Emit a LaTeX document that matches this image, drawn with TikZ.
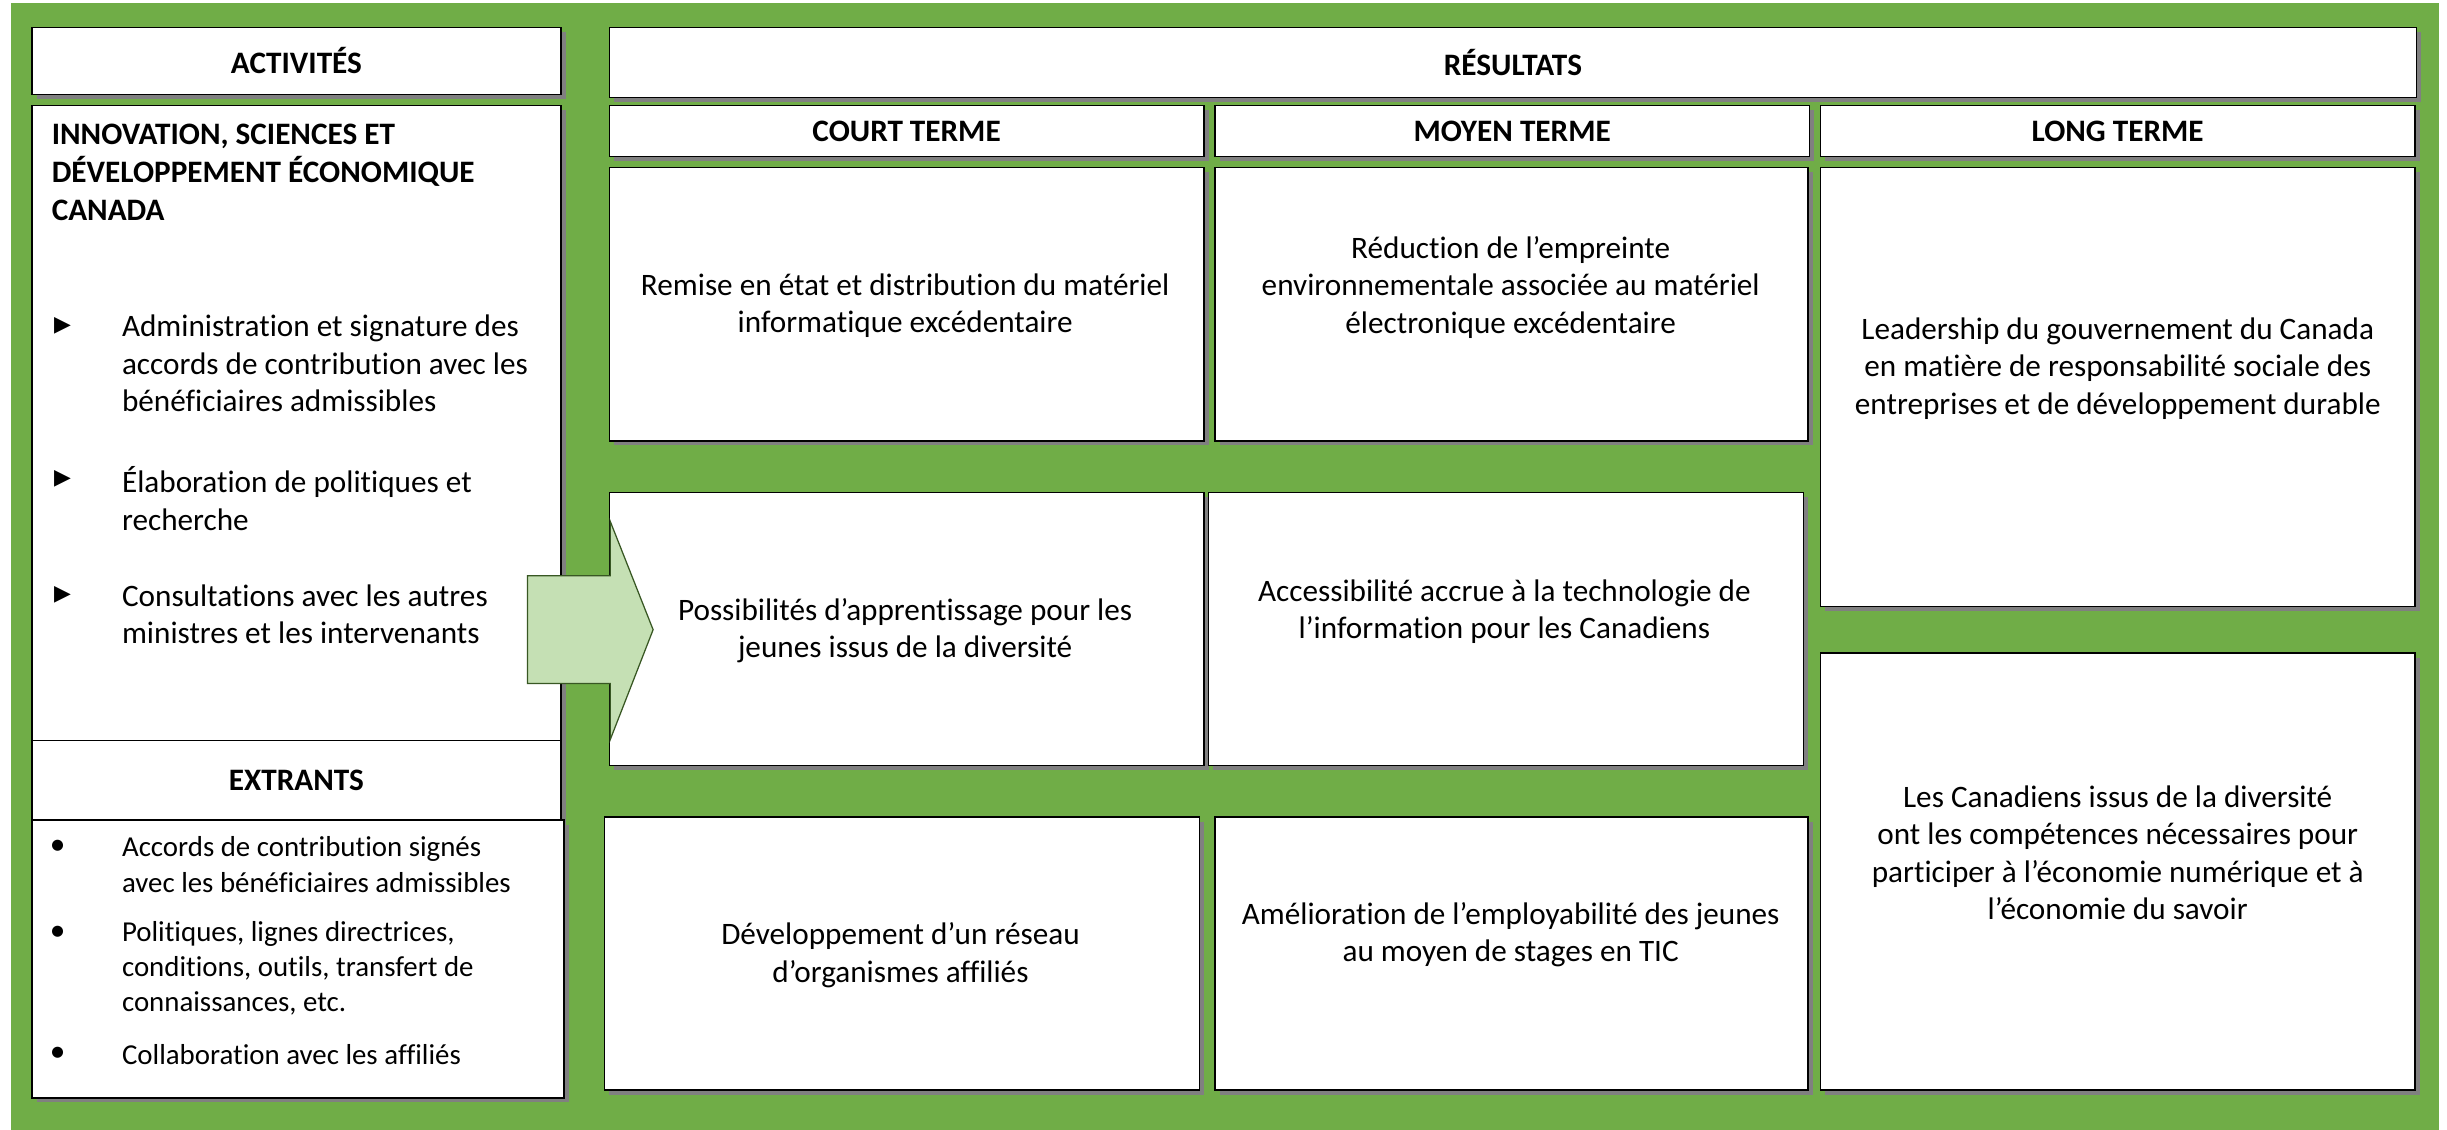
\documentclass[tikz,border=0pt]{standalone}
\usepackage{fontspec}
\setmainfont{Carlito}[RawFeature=-liga]
\newfontfamily\symfont{DejaVu Sans}
\usetikzlibrary{shadows}

\definecolor{bggreen}{RGB}{112,173,71}
\definecolor{arrowfill}{RGB}{197,224,180}
\definecolor{arrowline}{RGB}{56,87,35}
\definecolor{shadowgray}{RGB}{128,128,128}

\tikzset{
  panel/.style={rectangle, draw=black, fill=white, line width=0.9pt, inner sep=0pt, anchor=north west,
    drop shadow={shadow xshift=3pt, shadow yshift=-3pt, fill=shadowgray, opacity=1}},
  headtext/.style={font=\bfseries\fontsize{20}{24}\selectfont},
  boxtext/.style={font=\fontsize{20}{24}\selectfont, align=center, inner sep=0pt},
  itemtext/.style={font=\fontsize{20}{24}\selectfont, align=left, inner sep=0pt, anchor=west},
  outtext/.style={font=\fontsize{18.5}{22.5}\selectfont, align=left, inner sep=0pt, anchor=west},
  pointer/.style={font=\symfont\fontsize{14}{18}\selectfont, inner sep=0pt},
  dot/.style={font=\fontsize{20}{22.5}\selectfont, inner sep=0pt},
  flow/.style={fill=arrowfill, draw=arrowline, line width=0.8pt, line join=miter}
}

\begin{document}
\begin{tikzpicture}[x=1pt, y=-1pt]

% Background - green frame
\useasboundingbox (0,0) rectangle (1568,724);
\fill[bggreen] (7,2) rectangle (1563,724);

% ========== Activities column ==========
\node[panel, headtext, minimum width=339pt, minimum height=43pt] (activites) at (20,17) {ACTIVITÉS};
\node[panel, minimum width=339pt, minimum height=407pt] (isde) at (20,67) {};
\node[panel, headtext, minimum width=339pt, minimum height=51pt] (extrants) at (20,474) {EXTRANTS};
\node[panel, minimum width=341pt, minimum height=178pt] (sorties) at (20,525) {};

% Department name
\node[itemtext, font=\bfseries\fontsize{20}{24.5}\selectfont] (isdetitle) at (33,110.5)
  {INNOVATION, SCIENCES ET\\DÉVELOPPEMENT ÉCONOMIQUE\\CANADA};

% Activities - pointers and items
\foreach \y/\nm in {209/ptr1, 307/ptr2, 381/ptr3}
  \node[pointer] (\nm) at (40,\y) {▶};
\node[itemtext] (act1) at (78,232.8) {Administration et signature des\\accords de contribution avec les\\bénéficiaires admissibles};
\node[itemtext] (act2) at (78,319.6) {Élaboration de politiques et\\recherche};
\node[itemtext] (act3) at (78,393.5) {Consultations avec les autres\\ministres et les intervenants};

% Outputs - bullets and items
\foreach \y/\nm in {543/dot1, 598/dot2, 675.7/dot3}
  \node[dot] (\nm) at (37,\y) {•};
\node[outtext] (out1) at (78,554) {Accords de contribution signés\\avec les bénéficiaires admissibles};
\node[outtext] (out2) at (78,620.5) {Politiques, lignes directrices,\\conditions, outils, transfert de\\connaissances, etc.};
\node[outtext] (out3) at (78,675.7) {Collaboration avec les affiliés};

% ========== Results columns ==========
\node[panel, headtext, minimum width=1158pt, minimum height=45pt] (resultats) at (390,17) {RÉSULTATS};

% Term headers
\foreach \x/\nm/\lbl in {390/court/COURT TERME, 778/moyen/MOYEN TERME, 1166/long/LONG TERME}
  \node[panel, headtext, minimum width=381pt, minimum height=33pt] (\nm) at (\x,67) {\lbl};

% Short term
\node[panel, minimum width=381pt, minimum height=175pt] (court1) at (390,107) {};
\node[panel, minimum width=381pt, minimum height=175pt] (court2) at (390,315) {};
\node[panel, minimum width=381pt, minimum height=175pt] (court3) at (387,523) {};
\node[boxtext] (court1txt) at (580,196) {Remise en état et distribution du matériel\\informatique excédentaire};
\node[boxtext] (court2txt) at (580,404) {Possibilités d’apprentissage pour les\\jeunes issus de la diversité};
\node[boxtext] (court3txt) at (577,612) {Développement d’un réseau\\d’organismes affiliés};

% Medium term
\node[panel, minimum width=380pt, minimum height=175pt] (moyen1) at (778,107) {};
\node[panel, minimum width=381pt, minimum height=175pt] (moyen2) at (774,315) {};
\node[panel, minimum width=380pt, minimum height=175pt] (moyen3) at (778,523) {};
\node[boxtext] (moyen1txt) at (968,184) {Réduction de l’empreinte\\environnementale associée au matériel\\électronique excédentaire};
\node[boxtext] (moyen2txt) at (964,392) {Accessibilité accrue à la technologie de\\l’information pour les Canadiens};
\node[boxtext] (moyen3txt) at (968,599) {Amélioration de l’employabilité des jeunes\\au moyen de stages en TIC};

% Long term
\node[panel, minimum width=381pt, minimum height=281pt] (long1) at (1166,107) {};
\node[panel, minimum width=381pt, minimum height=280pt] (long2) at (1166,418) {};
\node[boxtext] (long1txt) at (1357,236) {Leadership du gouvernement du Canada\\en matière de responsabilité sociale des\\entreprises et de développement durable};
\node[boxtext] (long2txt) at (1357,546.5) {Les Canadiens issus de la diversité\\ont les compétences nécessaires pour\\participer à l’économie numérique et à\\l’économie du savoir};

% Block arrow from activities to results
\draw[flow] (338,369) -- (391,369) -- (391,334) -- (418.5,403.5) -- (391,474) -- (391,438) -- (338,438) -- cycle;

\end{tikzpicture}
\end{document}
